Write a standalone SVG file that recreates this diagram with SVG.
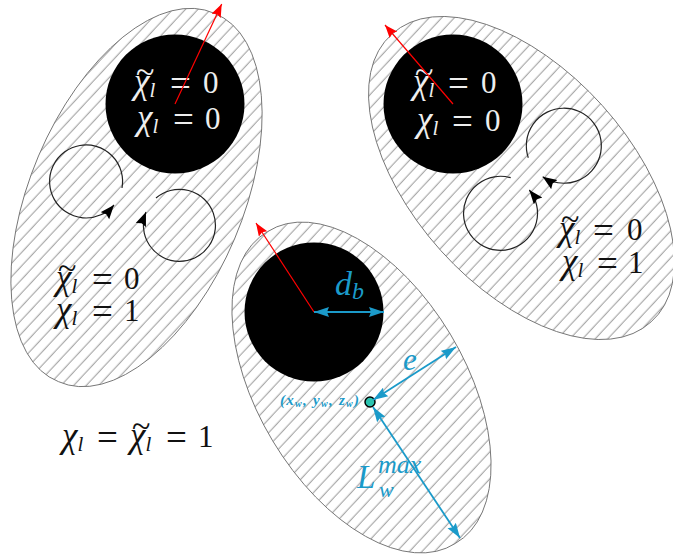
<svg xmlns="http://www.w3.org/2000/svg" width="673" height="556" viewBox="0 0 673 556">
<style>
.m{font-family:"Liberation Serif",serif;font-size:31px;fill:#111}
.w{fill:#eee}
.b{fill:#1b9ac9}
.i{font-style:italic}
.c{font-style:italic;font-size:35px}
.tl{font-size:34px}
.s{font-size:21px;font-style:italic}
.e{font-size:37px}
.el{fill:url(#h);stroke:#777;stroke-width:1}
.ar{fill:none;stroke:#222;stroke-width:1.2;marker-end:url(#ka)}
.rd{stroke:#f00;stroke-width:1.2;fill:none;marker-end:url(#ra)}
.bl{stroke:#1b9ac9;stroke-width:1.8;fill:none;marker-end:url(#ba);marker-start:url(#bs)}
</style>
<defs>
<pattern id="h" patternUnits="userSpaceOnUse" width="9.2" height="9.2" patternTransform="rotate(-47)">
<rect width="9.2" height="9.2" fill="#fff"/><line x1="0" y1="4" x2="9.2" y2="4" stroke="#aaa" stroke-width="1.2"/>
</pattern>
<marker id="ka" markerUnits="userSpaceOnUse" markerWidth="16" markerHeight="12" refX="14" refY="5.500" orient="auto"><path d="M0 0L14 5.500L0 11L2 5.500Z" fill="#000"/></marker>
<marker id="ra" markerUnits="userSpaceOnUse" markerWidth="14" markerHeight="12" refX="13" refY="5" orient="auto"><path d="M0 0L13 5L0 10L2 5Z" fill="#f00"/></marker>
<marker id="ba" markerUnits="userSpaceOnUse" markerWidth="16" markerHeight="12" refX="15" refY="5" orient="auto"><path d="M0 0L15 5L0 10L2 5Z" fill="#1b9ac9"/></marker>
<marker id="bs" markerUnits="userSpaceOnUse" markerWidth="16" markerHeight="12" refX="0" refY="5" orient="auto"><path d="M15 0L0 5L15 10L13 5Z" fill="#1b9ac9"/></marker>
</defs>

<g id="node-left">
<path class="el" d="M214.600 13.400A105 200 23 1 1 58.400 381.600A105 200 23 1 1 214.600 13.400Z"/>
<circle cx="175" cy="104" r="69.500"/>
<text class="m w" y="93"><tspan class="tl" x="136" dy="-10">~</tspan><tspan class="c" x="134" dy="10">χ</tspan><tspan class="s" dy="4">l</tspan><tspan class="e" x="170" dy="-1">=</tspan><tspan x="203" dy="-3">0</tspan></text>
<text class="m w" y="129"><tspan class="c" x="137">χ</tspan><tspan class="s" dy="4">l</tspan><tspan class="e" x="173" dy="-1">=</tspan><tspan x="205" dy="-3">0</tspan></text>
<text class="m" y="289"><tspan class="tl" x="58" dy="-10">~</tspan><tspan class="c" x="56" dy="10">χ</tspan><tspan class="s" dy="4">l</tspan><tspan class="e" x="92" dy="-1">=</tspan><tspan x="124" dy="-3">0</tspan></text>
<text class="m" y="321"><tspan class="c" x="56">χ</tspan><tspan class="s" dy="4">l</tspan><tspan class="e" x="92" dy="-1">=</tspan><tspan x="124" dy="-3">1</tspan></text>
</g>

<g id="node-right">
<path class="el" d="M392 34.100A107.500 193.600 -42 1 1 651 321.900A107.500 193.600 -42 1 1 392 34.100Z"/>
<circle cx="453" cy="104" r="69.500"/>
<text class="m w" y="93"><tspan class="tl" x="415" dy="-10">~</tspan><tspan class="c" x="413" dy="10">χ</tspan><tspan class="s" dy="4">l</tspan><tspan class="e" x="448" dy="-1">=</tspan><tspan x="481" dy="-3">0</tspan></text>
<text class="m w" y="131"><tspan class="c" x="417">χ</tspan><tspan class="s" dy="4">l</tspan><tspan class="e" x="452" dy="-1">=</tspan><tspan x="485" dy="-3">0</tspan></text>
<text class="m" y="240"><tspan class="tl" x="561" dy="-10">~</tspan><tspan class="c" x="559" dy="10">χ</tspan><tspan class="s" dy="4">l</tspan><tspan class="e" x="593" dy="-1">=</tspan><tspan x="627" dy="-3">0</tspan></text>
<text class="m" y="273"><tspan class="c" x="562">χ</tspan><tspan class="s" dy="4">l</tspan><tspan class="e" x="597" dy="-1">=</tspan><tspan x="628" dy="-3">1</tspan></text>
</g>

<g id="node-bottom">
<path class="el" d="M267.800 231.500A102 182 -31 1 1 455.200 543.500A102 182 -31 1 1 267.800 231.500Z"/>
<circle cx="314" cy="312" r="69.500"/>
<text class="m b i" x="335" y="295" style="font-size:34px">d<tspan class="s" dy="4" style="font-size:24px">b</tspan></text>
<text class="m b i" x="403" y="370">e</text>
<text class="m b i" x="357" y="488" style="font-size:33px">L</text>
<text class="m b s" x="378" y="473" style="font-size:26px">max</text>
<text class="m b s" x="379" y="497" style="font-size:22px">w</text>
<text id="coord" x="280" y="405" textLength="79" style="font-family:'Liberation Serif',serif;font-size:15px;font-weight:bold;font-style:italic;fill:#1b9ac9">(x<tspan dy="2" font-size="10">w</tspan><tspan dy="-2">, y</tspan><tspan dy="2" font-size="10">w</tspan><tspan dy="-2">, z</tspan><tspan dy="2" font-size="10">w</tspan><tspan dy="-2">)</tspan></text>
<circle cx="370" cy="402" r="5" fill="#2cc4b0" stroke="#000" stroke-width="1.500"/>
</g>

<g id="node-free">
<text class="m" y="447"><tspan class="c" x="62">χ</tspan><tspan class="s" dy="4">l</tspan><tspan class="e" x="97" dy="-1">=</tspan><tspan class="tl" x="132" dy="-13">~</tspan><tspan class="c" x="130" dy="10">χ</tspan><tspan class="s" dy="4">l</tspan><tspan class="e" x="166" dy="-1">=</tspan><tspan x="198" dy="-3">1</tspan></text>
</g>

<g id="connectors">
<path class="ar" d="M122 188A36.500 36.500 0 1 0 114 205"/>
<path class="ar" d="M156 198A36 36 0 1 1 146 212"/>
<path class="ar" d="M528.300 157.700A37.500 37.500 0 1 1 542.700 176.700"/>
<path class="ar" d="M510.700 177.700A37 37 0 1 0 529.300 190"/>
<line class="rd" x1="175" y1="104" x2="221.700" y2="4"/>
<line class="rd" x1="453" y1="104" x2="385" y2="25"/>
<line class="rd" x1="314" y1="312" x2="256" y2="223"/>
<line class="bl" x1="314" y1="312" x2="384" y2="312"/>
<line class="bl" x1="373" y1="400" x2="456" y2="347"/>
<line class="bl" x1="373" y1="407" x2="460" y2="538"/>
</g>
</svg>
